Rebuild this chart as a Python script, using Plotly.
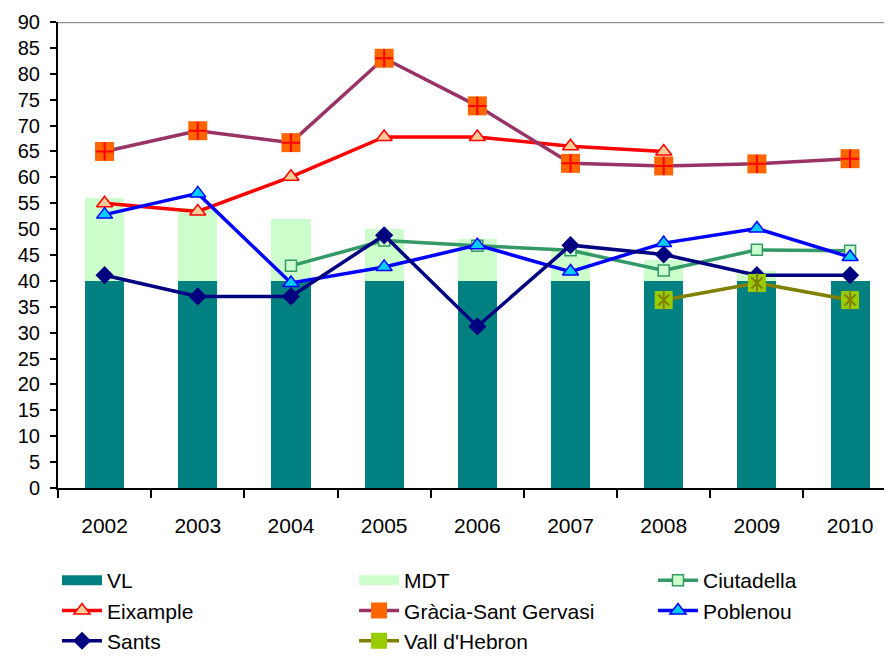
import plotly.graph_objects as go

years = ["2002", "2003", "2004", "2005", "2006", "2007", "2008", "2009", "2010"]

vl = [40, 40, 40, 40, 40, 40, 40, 40, 40]
mdt = [16, 14, 12, 10, 8, 6, 4, 2, 0]

ciutadella = [None, None, 42.9, 47.8, 46.8, 45.9, 42.0, 46.0, 45.8]
eixample = [55.0, 53.4, 60.1, 67.8, 67.8, 66.0, 65.0, None, None]
gracia = [65.0, 69.0, 66.7, 83.0, 73.8, 62.7, 62.2, 62.6, 63.6]
poblenou = [52.8, 56.9, 39.6, 42.7, 46.9, 41.8, 47.3, 50.1, 44.6]
sants = [41.1, 37.0, 37.0, 48.8, 31.2, 46.9, 45.1, 41.1, 41.1]
vall_hebron = [None, None, None, None, None, None, 36.3, 39.6, 36.3]

FONT = "Liberation Sans, Arial, sans-serif"

fig = go.Figure()

# legend is split in three columns: legend, legend2, legend3
fig.add_trace(go.Bar(x=years, y=vl, name="VL", legend="legend", legendgroup="vl", showlegend=False,
                     marker={"color": "#008080", "line": {"width": 0}}))
fig.add_trace(go.Bar(x=years, y=mdt, name="MDT", legend="legend2", legendgroup="mdt", showlegend=False,
                     marker={"color": "#CCFFCC", "line": {"width": 0}}))
# wide swatches for the bar entries in the legend
fig.add_trace(go.Scatter(x=[None], y=[None], name="VL", mode="lines", legend="legend",
                         legendgroup="vl", line={"color": "#008080", "width": 17}))
fig.add_trace(go.Scatter(x=[None], y=[None], name="MDT", mode="lines", legend="legend2",
                         legendgroup="mdt", line={"color": "#CCFFCC", "width": 17}))

fig.add_trace(go.Scatter(
    x=years, y=ciutadella, name="Ciutadella", mode="lines+markers", legend="legend3",
    line={"color": "#339966", "width": 3.5},
    marker={"symbol": "square", "size": 11, "color": "#CCFFCC",
            "line": {"color": "#339966", "width": 1.5}},
))
fig.add_trace(go.Scatter(
    x=years, y=eixample, name="Eixample", mode="lines+markers", legend="legend",
    line={"color": "#FF0000", "width": 3.5},
    marker={"symbol": "triangle-up", "size": 14, "color": "#FFCC99",
            "line": {"color": "#FF0000", "width": 1.5}},
))
fig.add_trace(go.Scatter(
    x=years, y=gracia, name="Gràcia-Sant Gervasi", mode="lines+markers", legend="legend2",
    legendgroup="gracia",
    line={"color": "#993366", "width": 3.5},
    marker={"symbol": "square", "size": 19, "color": "#FF6600", "line": {"width": 0}},
))
fig.add_trace(go.Scatter(
    x=years, y=gracia, mode="markers", legend="legend2", legendgroup="gracia", showlegend=False,
    marker={"symbol": "cross-thin-open", "size": 13, "color": "#FF0000",
            "line": {"color": "#FF0000", "width": 2}},
))
fig.add_trace(go.Scatter(
    x=years, y=poblenou, name="Poblenou", mode="lines+markers", legend="legend3",
    line={"color": "#0000FF", "width": 3.5},
    marker={"symbol": "triangle-up", "size": 14, "color": "#00CCFF",
            "line": {"color": "#0000FF", "width": 1.5}},
))
fig.add_trace(go.Scatter(
    x=years, y=sants, name="Sants", mode="lines+markers", legend="legend",
    line={"color": "#000080", "width": 3.5},
    marker={"symbol": "diamond", "size": 14, "color": "#000080"},
))
fig.add_trace(go.Scatter(
    x=years, y=vall_hebron, name="Vall d'Hebron", mode="lines+markers", legend="legend2",
    legendgroup="vall",
    line={"color": "#808000", "width": 3.5},
    marker={"symbol": "square", "size": 18, "color": "#99CC00", "line": {"width": 0}},
))
fig.add_trace(go.Scatter(
    x=years, y=vall_hebron, mode="markers", legend="legend2", legendgroup="vall", showlegend=False,
    marker={"symbol": "x-thin-open", "size": 11, "color": "#808000",
            "line": {"color": "#808000", "width": 2}},
))
fig.add_trace(go.Scatter(
    x=years, y=vall_hebron, mode="markers", legend="legend2", legendgroup="vall", showlegend=False,
    marker={"symbol": "line-ns-open", "size": 14, "color": "#808000",
            "line": {"color": "#808000", "width": 2}},
))

fig.add_shape(type="line", xref="paper", yref="y", x0=0, x1=1, y0=90, y1=90,
              line={"color": "#8C968C", "width": 2.5})


def legend_box(x):
    return {
        "orientation": "v",
        "x": x,
        "xanchor": "left",
        "y": -0.1545,
        "yanchor": "top",
        "font": {"family": FONT, "size": 21, "color": "black"},
        "traceorder": "normal",
        "tracegroupgap": 0,
        "itemwidth": 40,
        "bgcolor": "rgba(0,0,0,0)",
    }


# page body has an 8px margin, so the figure is a bit smaller than the window
fig.update_layout(
    width=884,
    height=653,
    margin={"l": 50, "r": 0, "t": 14, "b": 173, "autoexpand": False},
    plot_bgcolor="white",
    paper_bgcolor="white",
    barmode="stack",
    bargap=0.58,
    font={"family": FONT, "size": 21, "color": "black"},
    showlegend=True,
    legend=legend_box(-0.0012),
    legend2=legend_box(0.355),
    legend3=legend_box(0.7134),
    xaxis={
        "type": "category",
        "range": [-0.5, 8.45],
        "automargin": False,
        "showgrid": False,
        "showline": True,
        "linecolor": "black",
        "linewidth": 2,
        "ticks": "outside",
        "tickson": "boundaries",
        "ticklen": 8,
        "tickwidth": 2,
        "tickcolor": "black",
        "tickfont": {"family": FONT, "size": 21},
        "ticklabelstandoff": 18,
        "zeroline": False,
    },
    yaxis={
        "range": [0, 90],
        "dtick": 5,
        "automargin": False,
        "showgrid": False,
        "showline": True,
        "linecolor": "black",
        "linewidth": 2,
        "ticks": "outside",
        "ticklen": 6,
        "tickwidth": 2,
        "tickcolor": "black",
        "tickfont": {"family": FONT, "size": 20},
        "ticklabelstandoff": 6,
        "zeroline": False,
    },
)

fig.write_html("out.html")
